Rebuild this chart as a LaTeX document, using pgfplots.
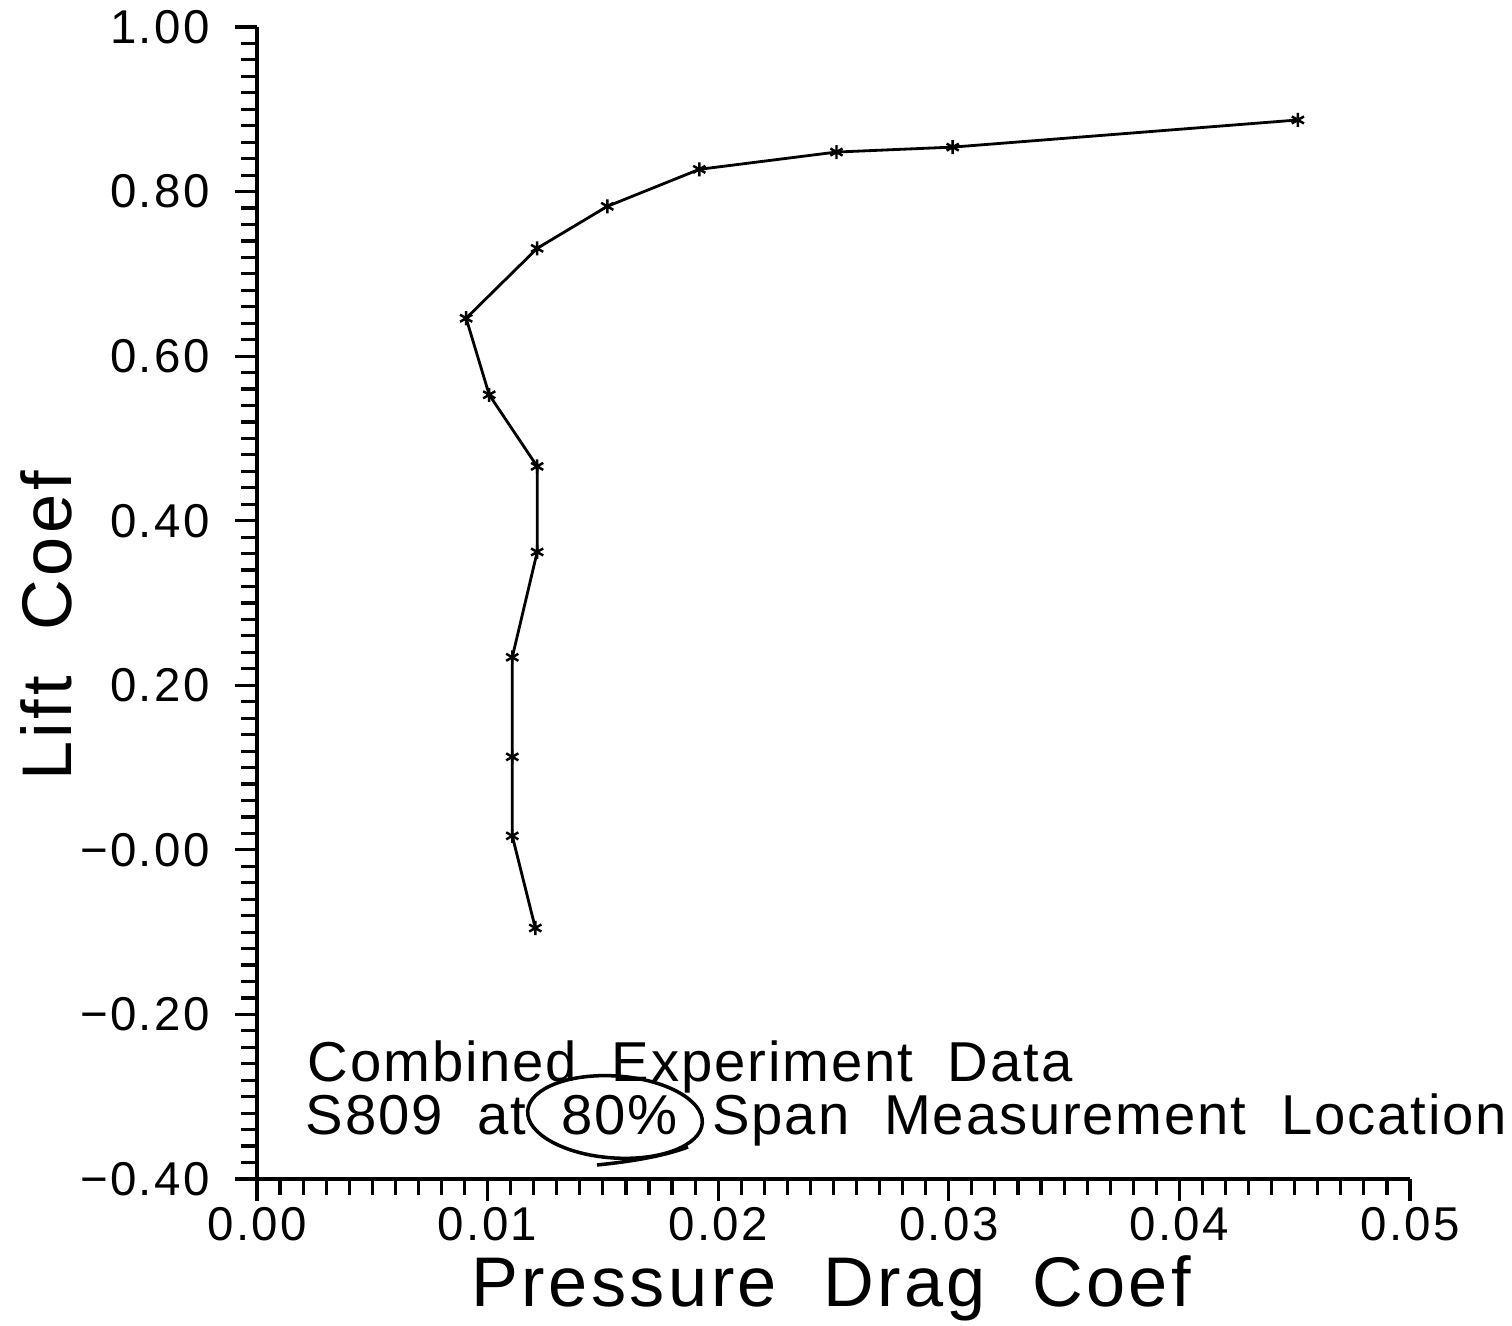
\documentclass[border=0pt]{standalone}
\usepackage{fontspec}
\setmainfont{Liberation Sans}
\newfontfamily\hfont[LetterSpace=5]{Liberation Sans}
\newfontfamily\nfont[LetterSpace=3.3]{Liberation Sans}
\usepackage{pgfplots}
\pgfplotsset{compat=1.18}

\pgfplotstableread{
cd        cl
0.04514   0.887
0.03017   0.854
0.02513   0.848
0.01918   0.827
0.01519   0.782
0.01215   0.731
0.00907   0.646
0.01007   0.553
0.01215   0.466
0.01215   0.362
0.01107   0.234
0.01107   0.113
0.01107   0.017
0.01207  -0.095
}\polar

\begin{document}
\begin{tikzpicture}
% page frame, same proportions as the scanned plot
\path[use as bounding box] (-25.7mm,-14.7mm) rectangle (125.5mm,117.9mm);
\begin{axis}[
    scale only axis,
    width=115.3mm, height=115.2mm,
    xmin=0, xmax=0.05, ymin=-0.4, ymax=1.0,
    axis lines*=left,
    axis line style={line width=1pt},
    xtick={0,0.01,0.02,0.03,0.04,0.05},
    xticklabels={0.00,0.01,0.02,0.03,0.04,0.05},
    ytick={-0.4,-0.2,0,0.2,0.4,0.6,0.8,1.0},
    yticklabels={−0.40,−0.20,−0.00,0.20,0.40,0.60,0.80,1.00},
    scaled x ticks=false, scaled y ticks=false,
    minor tick num=9,
    tick align=outside,
    major tick length=2.2mm, minor tick length=1.6mm,
    tick style={line width=0.9pt, black},
    ticklabel style={font=\hfont\fontsize{13.5}{15}\selectfont},
    xticklabel style={yshift=-0.6mm, text depth=0pt, inner sep=0pt, anchor=north},
    yticklabel style={xshift=-1.3mm},
    xlabel={Pressure\ \ Drag\ \ Coef},
    ylabel={Lift\ \ Coef},
    label style={font=\hfont\fontsize{20}{22}\selectfont},
    xlabel style={at={(axis description cs:0.498,-0.111)}, anchor=base,
                  text height=0.72em, inner sep=0pt},
    ylabel style={at={(axis description cs:-0.161,0.48)}, anchor=base},
    clip=false,
]
\addplot[black, line width=0.8pt, mark=asterisk, mark size=2pt,
         mark options={line width=0.7pt}] table[x=cd, y=cl] {\polar};

\node[anchor=base west, font=\nfont\fontsize{16}{18}\selectfont, inner sep=0pt]
    at (axis cs:0.00217,-0.282) {Combined\ \ Experiment\ \ Data};
\node[anchor=base west, font=\nfont\fontsize{16}{18}\selectfont, inner sep=0pt]
    at (axis cs:0.00208,-0.3465) {S809\ \ at\ \ 80\%\ \ Span\ \ Measurement\ \ Location};
\end{axis}
% hand-drawn circle round the span value
\draw[line width=1pt, rotate around={-4:(35.8mm,6.2mm)}]
    (35.8mm,6.2mm) ellipse [x radius=8.75mm, y radius=4.1mm];
\draw[line width=1pt] (34.0mm,1.4mm) .. controls (38mm,1.8mm) and (41mm,2.4mm) .. (43.1mm,3.2mm);
\end{tikzpicture}
\end{document}
